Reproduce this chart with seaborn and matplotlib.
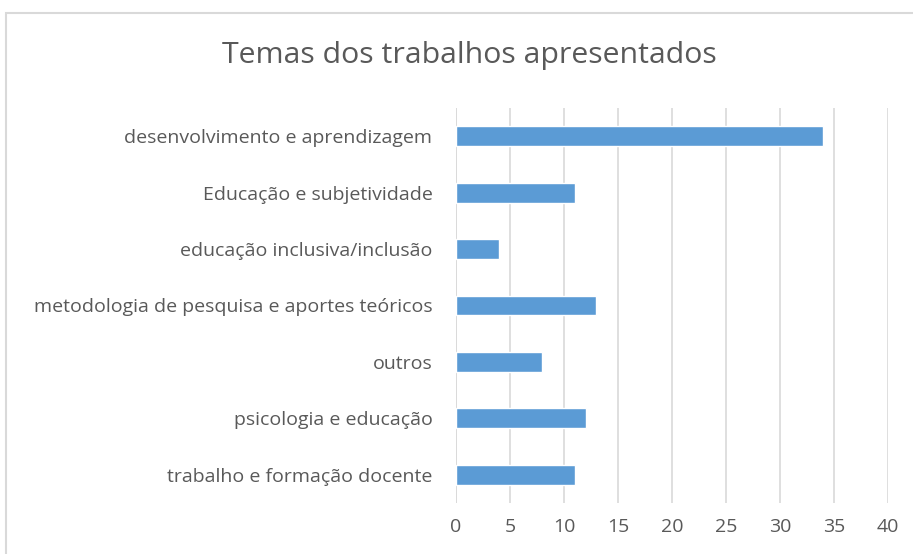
import matplotlib
matplotlib.use("Agg")
import matplotlib.pyplot as plt
import seaborn as sns
import pandas as pd
from matplotlib.patches import Rectangle

# data
temas = [
    "desenvolvimento e aprendizagem",
    "Educação e subjetividade",
    "educação inclusiva/inclusão",
    "metodologia de pesquisa e aportes teóricos",
    "outros",
    "psicologia e educação",
    "trabalho e formação docente",
]
quantidade = [34, 11, 4, 13, 8, 12, 11]
x_ticks = [0, 5, 10, 15, 20, 25, 30, 35, 40]

df = pd.DataFrame({"Tema": temas, "Quantidade": quantidade})

sns.set_theme(style="white")
plt.rcParams["font.family"] = ["Open Sans", "DejaVu Sans"]
text_color = "#595959"

fig = plt.figure(figsize=(9.13, 5.54), dpi=100)
ax = fig.add_axes([456 / 913, 1 - 503 / 554, 432 / 913, 395 / 554])

sns.barplot(data=df, x="Quantidade", y="Tema", color="#5B9BD5", width=0.35,
            saturation=1, ax=ax, zorder=3)

ax.set_xlim(0, 40)
ax.set_xticks(x_ticks)
ax.grid(axis="x", color="#D9D9D9", linewidth=1.2, zorder=0)
ax.grid(axis="y", visible=False)
for s in ax.spines.values():
    s.set_visible(False)
ax.axvline(0, color="#D9D9D9", linewidth=1.2, zorder=1)
ax.tick_params(axis="x", length=0, pad=11, labelsize=14, labelcolor=text_color)
ax.tick_params(axis="y", length=0, pad=17, labelsize=14, labelcolor=text_color)
ax.set_xlabel("")
ax.set_ylabel("")

fig.text(469 / 913, 1 - 55 / 554, "Temas dos trabalhos apresentados", ha="center",
         va="center", fontsize=21.8, color=text_color)

# chart frame like the spreadsheet export
fig.patches.append(Rectangle((6 / 913, -0.05), 1.0, 1 - 13 / 554 + 0.05,
                             transform=fig.transFigure, fill=False,
                             edgecolor="#D9D9D9", linewidth=1.5))

fig.savefig("out.png", dpi=100)
